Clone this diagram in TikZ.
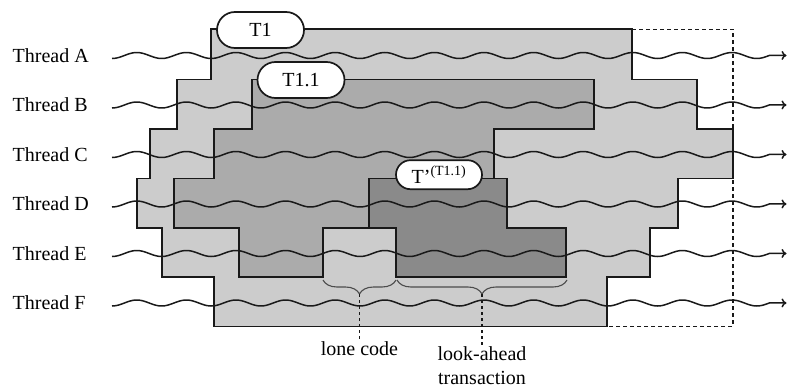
\documentclass[tikz,border=0pt]{standalone}
\usepackage{fontspec}
\setmainfont{Liberation Serif}
\usetikzlibrary{arrows.meta,shapes.misc,decorations.pathreplacing}
\definecolor{outerfill}{gray}{0.80}
\definecolor{innerfill}{gray}{0.67}
\definecolor{deepfill}{gray}{0.54}
\definecolor{edge}{gray}{0.10}
\definecolor{bracegray}{gray}{0.30}
\begin{document}
\begin{tikzpicture}[x=1pt,y=-1pt,
  region/.style={draw=edge, line width=1.7pt, line join=miter},
  wave/.style={draw=edge, line width=1.5pt, -{To[length=5pt,width=9pt]}},
  threadlabel/.style={anchor=west, inner sep=0pt, font=\fontsize{20}{24}\selectfont},
  pill/.style={rounded rectangle, draw=edge, fill=white, line width=1.7pt,
    minimum width=87pt, minimum height=36pt, inner sep=0pt,
    font=\fontsize{20}{24}\selectfont},
  leader/.style={draw=edge, dash pattern=on 3pt off 3pt, line width=1.4pt},
  note/.style={anchor=north, inner sep=0pt, outer sep=2pt, align=center,
    font=\fontsize{20}{24}\selectfont},
  bracemark/.style={decorate, decoration={brace, mirror, amplitude=14pt},
    draw=bracegray, line width=1.1pt}
]
\useasboundingbox (0,0) rectangle (787,388);

% extent of the enclosing transaction (dashed)
\draw[edge, line width=1.5pt, dash pattern=on 4pt off 3pt]
  (632,29.3) -- (733,29.3) -- (733,326.5) -- (607,326.5);

% T1: outer transaction
\path[region, fill=outerfill]
  (211,29.3) -- (632,29.3) -- (632,79.5) -- (697,79.5) -- (697,128.7)
  -- (733,128.7) -- (733,178.5) -- (678,178.5) -- (678,228) -- (650,228)
  -- (650,277.3) -- (607,277.3) -- (607,326.5) -- (214,326.5) -- (214,277.3)
  -- (162,277.3) -- (162,228) -- (137,228) -- (137,178.5) -- (150,178.5)
  -- (150,128.7) -- (177,128.7) -- (177,79.5) -- (211,79.5) -- cycle;

% T1.1: nested transaction
\path[region, fill=innerfill]
  (252,79.5) -- (594,79.5) -- (594,128.7) -- (494,128.7) -- (494,178.5)
  -- (369,178.5) -- (369,228) -- (323,228) -- (323,277.3) -- (239,277.3)
  -- (239,228) -- (174,228) -- (174,178.5) -- (214,178.5) -- (214,128.7)
  -- (252,128.7) -- cycle;

% look-ahead transaction
\path[region, fill=deepfill]
  (369,178.5) -- (507,178.5) -- (507,228) -- (566,228) -- (566,277.3)
  -- (396,277.3) -- (396,228) -- (369,228) -- cycle;

% lone code block
\fill[outerfill] (323,228) rectangle (396,277.3);
\draw[edge, line width=1.7pt, line join=miter]
  (323,277.3) -- (323,228) -- (396,228) -- (396,277.3);

% threads: wavy lines of period 49.6
\foreach \t/\y in {A/55.5,B/105,C/154.5,D/204,E/253.5,F/303} {
  \node[threadlabel] (lab\t) at (12.5,\y) {Thread \t};
  \coordinate (s\t) at (112,\y);
  \coordinate (e\t) at (786.5,\y);
  \draw[wave, shift={(s\t)}]
    plot[domain=0:657.6, samples=300, smooth] (\x, {3*cos(7.2581*\x)})
    -- (e\t);
}

% transaction labels
\node[pill] (t1) at (260.5,30) {T1};
\node[pill] (t11) at (301,80) {T1.1};
\node[pill, minimum height=29pt, minimum width=86pt] (tla) at (439,174.7)
  {T’\textsuperscript{(T1.1)}};

% braces and annotations
\coordinate (lcL) at (323,280);
\coordinate (lcR) at (396,280);
\coordinate (lcTip) at (359.5,294);
\coordinate (laL) at (397,280);
\coordinate (laR) at (567,280);
\coordinate (laTip) at (482,294);
\draw[bracemark] (lcL) -- (lcR);
\draw[bracemark] (laL) -- (laR);

\node[note] (lone) at (359.5,340) {lone code};
\node[note] (look) at (482,345) {look-ahead\\transaction};
\draw[leader] (lcTip) -- (lone.north);
\draw[leader] (laTip) -- (look.north);
\end{tikzpicture}
\end{document}
